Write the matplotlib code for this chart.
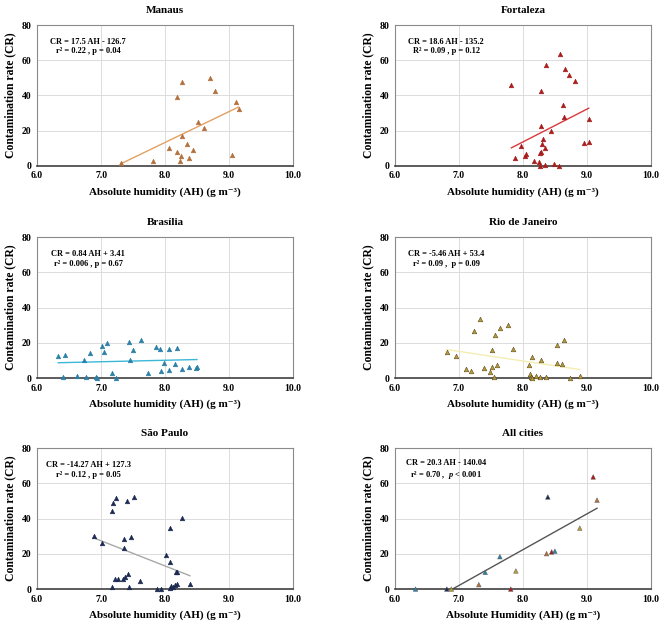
import numpy as np
import matplotlib
matplotlib.use("Agg")
import matplotlib.pyplot as plt

plt.rcParams['font.family'] = ['Liberation Serif', 'DejaVu Serif']
plt.rcParams['font.weight'] = 'bold'
plt.rcParams['mathtext.fontset'] = 'custom'
plt.rcParams['mathtext.rm'] = 'Liberation Serif:bold'
plt.rcParams['mathtext.it'] = 'Liberation Serif:italic:bold'
plt.rcParams['mathtext.bf'] = 'Liberation Serif:bold'

# data
manaus_ah = [7.31, 7.81, 8.06, 8.19, 8.18, 8.26, 8.25, 8.23, 8.26, 8.35, 8.38, 8.44,
             8.51, 8.61, 8.71, 8.78, 9.05, 9.11, 9.15]
manaus_cr = [1.7, 2.6, 10.4, 7.7, 39.1, 47.9, 5.7, 3.0, 17.0, 12.6, 4.5, 8.9,
             25.1, 21.3, 50.2, 42.5, 6.0, 36.2, 32.3]

fortaleza_ah = [7.82, 7.87, 7.97, 8.04, 8.05, 8.17, 8.25, 8.27, 8.29, 8.29, 8.26, 8.29,
                8.30, 8.31, 8.34, 8.35, 8.36, 8.44, 8.49, 8.56, 8.58, 8.63, 8.65, 8.66,
                8.72, 8.82, 8.95, 9.03, 9.03]
fortaleza_cr = [45.9, 4.3, 11.3, 5.9, 6.6, 2.8, 2.1, 0.2, 42.3, 22.7, 7.2, 7.9,
                12.7, 15.3, 10.0, 0.4, 57.3, 19.7, 0.9, 0.2, 63.5, 34.6, 28.0, 54.8,
                51.4, 48.4, 13.0, 13.8, 26.5]

brasilia_ah = [6.33, 6.40, 6.44, 6.63, 6.73, 6.76, 6.83, 6.92, 6.94, 7.01, 7.05, 7.10,
               7.17, 7.23, 7.44, 7.45, 7.50, 7.63, 7.73, 7.86, 7.92, 7.94, 7.98, 8.07,
               8.07, 8.15, 8.19, 8.27, 8.38, 8.49, 8.50]
brasilia_cr = [12.3, 0.4, 13.4, 1.1, 10.2, 0.4, 14.0, 0.6, 0.0, 18.5, 15.1, 19.8,
               2.8, 0.0, 20.6, 10.2, 15.7, 21.4, 2.8, 17.6, 16.3, 3.8, 8.5, 4.5,
               16.8, 8.1, 17.0, 4.9, 6.4, 5.5, 6.4]

rio_ah = [6.81, 6.95, 7.11, 7.19, 7.24, 7.33, 7.39, 7.49, 7.51, 7.52, 7.55, 7.56,
          7.59, 7.64, 7.77, 7.85, 8.10, 8.11, 8.13, 8.14, 8.15, 8.20, 8.26, 8.28,
          8.36, 8.53, 8.53, 8.61, 8.65, 8.73, 8.89]
rio_cr = [14.8, 12.7, 4.9, 4.2, 26.7, 33.6, 5.5, 3.2, 15.9, 6.3, 0.4, 24.3,
          7.2, 28.2, 30.0, 16.5, 7.4, 2.3, 0.4, 11.9, 0.0, 1.1, 0.4, 10.4,
          0.8, 18.6, 8.3, 8.0, 21.4, 0.0, 1.3]

saopaulo_ah = [6.89, 7.02, 7.17, 7.17, 7.19, 7.22, 7.23, 7.27, 7.35, 7.36, 7.36, 7.37,
               7.40, 7.42, 7.44, 7.47, 7.51, 7.61, 7.87, 7.93, 8.02, 8.08, 8.08, 8.08,
               8.10, 8.13, 8.15, 8.17, 8.18, 8.19, 8.27, 8.39]
saopaulo_cr = [30.4, 25.9, 44.6, 0.9, 48.6, 5.5, 51.8, 5.5, 5.5, 23.1, 28.5, 6.8,
               49.9, 8.5, 0.9, 29.3, 52.2, 4.7, 0.2, 0.2, 19.5, 34.6, 15.3, 0.6,
               1.9, 1.3, 2.1, 9.8, 9.5, 2.8, 40.3, 2.8]

all_ah = [6.32, 6.81, 6.88, 7.31, 7.41, 7.64, 7.81, 7.89, 8.37, 8.39, 8.45, 8.50,
          8.89, 9.10, 9.16]
all_cr = [0.0, 0.0, 0.0, 2.5, 9.5, 18.4, 0.0, 10.3, 20.1, 52.3, 21.1, 21.5,
          34.6, 63.7, 50.5]
all_city = ['Brasília', 'São Paulo', 'Rio de Janeiro', 'Manaus', 'Brasília', 'Brasília',
            'Fortaleza', 'Rio de Janeiro', 'Manaus', 'São Paulo', 'Fortaleza', 'Brasília',
            'Rio de Janeiro', 'Fortaleza', 'Manaus']

# fitted equations as printed on the panels (slope, intercept)
fits = {
    'Manaus': (17.5, -126.7),
    'Fortaleza': (18.6, -135.2),
    'Brasília': (0.84, 3.41),
    'Rio de Janeiro': (-5.46, 53.4),
    'São Paulo': (-14.27, 127.3),
    'All cities': (20.3, -140.04),
}
labels = {
    'Manaus': 'CR = 17.5 AH - 126.7\nr² = 0.22 , p = 0.04',
    'Fortaleza': 'CR = 18.6 AH - 135.2\nR² = 0.09 , p = 0.12',
    'Brasília': 'CR = 0.84 AH + 3.41\nr² = 0.006 , p = 0.67',
    'Rio de Janeiro': 'CR = -5.46 AH + 53.4\nr² = 0.09 ,  p = 0.09',
    'São Paulo': 'CR = -14.27 AH + 127.3\nr² = 0.12 , p = 0.05',
    'All cities': 'CR = 20.3 AH - 140.04\nr² = 0.70 ,  $\\it{p}$ < 0.001',
}

point_col = {'Manaus': '#b3703e', 'Fortaleza': '#a81c1c', 'Brasília': '#2b80a8',
             'Rio de Janeiro': '#b89a3a', 'São Paulo': '#1c2a52'}
line_col = {'Manaus': '#e2a062', 'Fortaleza': '#d83a3a', 'Brasília': '#3bb8d8',
            'Rio de Janeiro': '#f2eeb2', 'São Paulo': '#a8a8a8', 'All cities': '#555555'}

panels = [
    ('Manaus', manaus_ah, manaus_cr),
    ('Fortaleza', fortaleza_ah, fortaleza_cr),
    ('Brasília', brasilia_ah, brasilia_cr),
    ('Rio de Janeiro', rio_ah, rio_cr),
    ('São Paulo', saopaulo_ah, saopaulo_cr),
    ('All cities', all_ah, all_cr),
]

fig = plt.figure(figsize=(6.64, 6.26), dpi=100)
lefts = [0.056, 0.595]
bottoms = [0.735, 0.396, 0.059]

for i, (name, ah, cr) in enumerate(panels):
    ax = fig.add_axes([lefts[i % 2], bottoms[i // 2], 0.385, 0.225])
    ax.set_xlim(6, 10)
    ax.set_ylim(0, 80)
    ax.set_xticks([6, 7, 8, 9, 10])
    ax.set_xticklabels(['6.0', '7.0', '8.0', '9.0', '10.0'])
    ax.set_yticks([0, 20, 40, 60, 80])
    ax.grid(True, color='#dcdcdc', lw=0.7)
    ax.set_axisbelow(True)
    ax.tick_params(length=0, labelsize=7, pad=4)
    for s in ax.spines.values():
        s.set_color('#8a8a8a')
        s.set_linewidth(0.8)
    ax.spines['bottom'].set_color('#404040')
    ax.spines['bottom'].set_linewidth(1.2)

    a, b = fits[name]
    x = np.array(ah)
    x0 = max(x.min(), -b / a) if a > 0 else x.min()
    xs = np.array([x0, x.max()])
    ax.plot(xs, a * xs + b, color=line_col[name], lw=1.0, zorder=2)

    if name == 'All cities':
        cols = [point_col[c] for c in all_city]
        ax.scatter(ah, cr, marker='^', s=11, c=cols, edgecolors='#555555',
                   linewidths=0.3, zorder=3, clip_on=False)
        xlab = 'Absolute Humidity (AH) (g m⁻³)'
    else:
        ec = '#5a4a1a' if name == 'Rio de Janeiro' else point_col[name]
        ax.scatter(ah, cr, marker='^', s=11, c=point_col[name], edgecolors=ec,
                   linewidths=0.4, zorder=3, clip_on=False)
        xlab = 'Absolute humidity (AH) (g m⁻³)'

    ax.set_title(name, fontsize=8, fontweight='bold', pad=9)
    ax.set_xlabel(xlab, fontsize=8, fontweight='bold', labelpad=5)
    ax.set_ylabel('Contamination rate (CR)', fontsize=8.4, fontweight='bold', labelpad=4)
    ax.text(0.2, 0.845, labels[name], transform=ax.transAxes, ha='center', va='center',
            fontsize=6, fontweight='bold', linespacing=1.2)

fig.savefig('out.png', dpi=100)
